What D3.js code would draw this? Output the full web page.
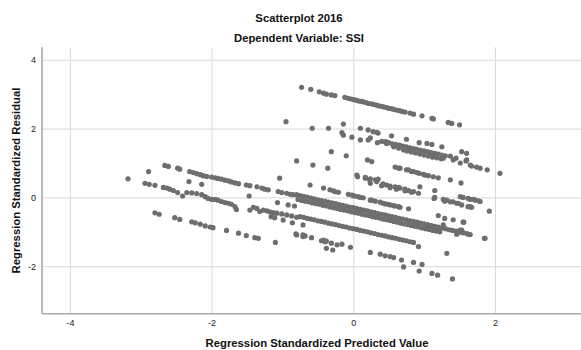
<!DOCTYPE html>
<html>
<head>
<meta charset="utf-8">
<script src="https://cdn.jsdelivr.net/npm/d3@7/dist/d3.min.js"></script>
<style>
  html, body { margin: 0; padding: 0; background: #fff; }
  svg { display: block; font-family: "Liberation Sans", Arial, sans-serif; }
</style>
</head>
<body>
<svg id="chart" width="581" height="350"></svg>
<script>
// Regression standardized residual vs. standardized predicted value, 2016 model (DV: SSI)
const chartTitle = "Scatterplot 2016";
const chartSubtitle = "Dependent Variable: SSI";
const xLabel = "Regression Standardized Predicted Value";
const yLabel = "Regression Standardized Residual";

const xDomain = [-4.394, 3.214];
const yDomain = [-3.381, 4.363];
const xTicks = [-4, -2, 0, 2];
const yTicks = [-2, 0, 2, 4];

// [predicted, residual] pairs, grouped by the diagonal bands they form
const topBand = [
  [-0.73,3.20],[-0.60,3.14],[-0.48,3.07],[-0.42,3.03],[-0.38,3.00],[-0.31,2.98],[-0.26,2.96],
  [-0.12,2.91],[-0.07,2.88],[-0.03,2.86],[0.01,2.84],[0.05,2.82],[0.08,2.80],[0.12,2.79],
  [0.15,2.77],[0.19,2.75],[0.22,2.73],[0.26,2.72],[0.29,2.70],[0.33,2.68],[0.36,2.66],
  [0.40,2.65],[0.43,2.63],[0.47,2.61],[0.50,2.59],[0.54,2.58],[0.57,2.56],[0.61,2.54],
  [0.65,2.52],[0.69,2.50],[0.73,2.48],[0.80,2.45],[0.85,2.42],[0.97,2.37],[1.11,2.30],
  [1.13,2.28],[1.34,2.18],[1.39,2.15],[1.50,2.11]
];

const upperBands = [
  [-0.95,2.20],[-0.58,2.01],[-0.35,2.01],[-0.14,2.13],[0.10,2.01],[0.21,1.96],[0.28,1.91],
  [0.33,1.89],[0.35,1.87],[0.54,1.79],[0.75,1.69],[0.93,1.59],[1.04,1.57],[1.11,1.54],
  [1.25,1.47],[1.53,1.33],[1.60,1.28],
  [-0.16,1.88],[0.24,1.73],[0.46,1.62],[0.47,1.57],
  [0.40,1.63],[0.45,1.61],[0.50,1.59],[0.55,1.56],[0.60,1.54],[0.65,1.52],[0.70,1.49],
  [0.75,1.47],[0.80,1.44],[0.85,1.42],[0.90,1.40],[0.95,1.37],[1.00,1.35],[1.05,1.33],
  [1.10,1.30],[1.15,1.28],[1.20,1.26],[1.25,1.23],[1.30,1.21],[1.37,1.20],[1.45,1.14],
  [1.60,1.09],[1.59,1.06],
  [-0.14,1.81],[-0.02,1.75],[0.10,1.67],[0.21,1.67],[0.34,1.59],[0.57,1.47],[0.64,1.43],
  [0.71,1.38],[0.76,1.35],[0.82,1.32],[0.88,1.29],[0.94,1.26],[1.00,1.23],[1.06,1.20],
  [1.12,1.17],[1.18,1.15],[1.24,1.12],[1.27,1.14],[1.41,1.09],[1.51,1.00],[1.65,0.94],
  [1.67,0.91],[1.74,0.88],[1.79,0.85],[1.89,0.80],[2.07,0.70]
];

const middleBands = [
  [-0.31,1.33],[-0.10,1.21],[0.20,1.09],[0.26,1.04],[0.59,0.88],[0.64,0.85],[0.66,0.85],
  [0.75,0.80],[0.78,0.80],[0.82,0.75],[0.85,0.75],[0.90,0.72],[0.93,0.70],[0.99,0.67],
  [1.01,0.65],[1.06,0.63],[1.13,0.60],[1.20,0.57],[1.37,0.51],[1.52,0.42],
  [-0.80,1.06],[-0.57,0.94],[-0.36,0.85],[0.05,0.65],[0.06,0.60],[0.17,0.56],[0.24,0.54],
  [0.31,0.51],[0.35,0.53],[0.17,0.58],
  [0.94,0.31],[1.15,0.20],[1.51,0.02],[1.55,0.00],[1.62,-0.03],[1.65,-0.06],[1.70,-0.06],
  [1.72,-0.08],[1.77,-0.10],[1.79,-0.12],
  [0.23,0.51],[0.24,0.41],[0.33,0.46],[0.40,0.34],[0.42,0.39],[0.47,0.36],[0.52,0.33],
  [0.52,0.28],[0.59,0.31],[0.61,0.24],[0.64,0.29],[0.66,0.27],[0.73,0.24],[0.73,0.19],
  [0.78,0.20],[0.82,0.15],[0.85,0.17],[0.92,0.12],[1.14,-0.03],[1.15,0.00],[1.27,-0.06],
  [1.29,-0.11],[1.32,-0.08],[1.37,-0.13],[1.41,-0.13],[1.46,-0.17],[1.48,-0.17],
  [1.53,-0.22],[1.62,-0.27],[1.65,-0.27],[1.67,-0.29],[1.92,-0.40],
  [-1.04,0.56],[-0.61,0.36],[-0.42,0.27],[-0.33,0.22],[-0.28,0.19],[-0.26,0.17],
  [-0.21,0.15],[-0.07,0.09],[-0.02,0.07],[0.00,0.05],[0.02,0.04],[0.07,0.02],[0.10,0.00],
  [0.14,-0.01],[0.24,-0.08],[0.26,-0.08],[0.31,-0.11],[0.38,-0.14],[0.42,-0.17],
  [0.45,-0.19],[0.49,-0.20],[0.52,-0.22],[0.57,-0.24],[0.59,-0.25],[0.64,-0.27],
  [0.66,-0.29],[0.78,-0.33],[1.20,-0.53],[1.29,-0.61],[1.41,-0.65],[1.55,-0.72],[1.56,-0.72]
];

const mainBand = [
  [-3.18,0.54],[-2.89,0.75],[-2.66,0.93],[-2.61,0.90],[-2.48,0.85],[-2.45,0.82],[-2.31,0.75],
  [-2.26,0.72],[-2.21,0.69],[-2.16,0.66],[-2.12,0.63],[-2.07,0.61],[-2.00,0.59],[-1.95,0.57],
  [-1.91,0.55],[-1.86,0.53],[-1.81,0.50],[-1.76,0.48],[-1.72,0.45],[-1.67,0.42],[-1.62,0.40],
  [-1.51,0.36],[-1.46,0.34],[-1.36,0.31],[-1.29,0.27],[-1.25,0.24],[-1.20,0.22],[-1.06,0.17],
  [-1.01,0.14],[-0.94,0.12],[-0.89,0.09],[-0.85,0.08],
  [-2.32,0.46],[-2.14,0.38],[-1.47,0.04],[-1.07,-0.15],[-0.92,-0.22],[-0.83,-0.25],
  [-0.80,0.08],[-0.75,0.05],[-0.70,0.03],[-0.65,0.01],[-0.60,-0.02],[-0.55,-0.04],
  [-0.50,-0.07],[-0.45,-0.09],[-0.40,-0.11],[-0.35,-0.14],[-0.30,-0.16],[-0.25,-0.18],
  [-0.20,-0.21],[-0.15,-0.23],[-0.10,-0.25],[-0.05,-0.28],[0.00,-0.30],[0.05,-0.32],
  [0.10,-0.35],[0.15,-0.37],[0.20,-0.39],[0.25,-0.42],[0.30,-0.44],[0.35,-0.47],
  [0.40,-0.49],[0.45,-0.51],[0.50,-0.54],[0.55,-0.56],[0.60,-0.58],[0.65,-0.61],
  [0.70,-0.63],[0.75,-0.65],[0.80,-0.68],[0.85,-0.70],[0.90,-0.72],[0.95,-0.75],
  [1.00,-0.77],[1.05,-0.79],[1.10,-0.82],[1.15,-0.84],[1.20,-0.86],[1.25,-0.89],
  [1.30,-0.91],[1.35,-0.94],[1.40,-0.96],[1.45,-0.98],[1.50,-1.01],[1.55,-1.03],
  [1.60,-1.05],[1.65,-1.08],
  [-0.78,-0.06],[-0.73,-0.09],[-0.68,-0.11],[-0.63,-0.13],[-0.58,-0.16],[-0.53,-0.18],
  [-0.48,-0.20],[-0.43,-0.23],[-0.38,-0.25],[-0.33,-0.28],[-0.28,-0.30],[-0.23,-0.32],
  [-0.18,-0.35],[-0.13,-0.37],[-0.08,-0.39],[-0.03,-0.42],[0.02,-0.44],[0.07,-0.46],
  [0.12,-0.49],[0.17,-0.51],[0.22,-0.53],[0.27,-0.56],[0.32,-0.58],[0.37,-0.60],
  [0.42,-0.63],[0.47,-0.65],[0.52,-0.67],[0.57,-0.70],[0.62,-0.72],[0.67,-0.75],
  [0.72,-0.77],[0.77,-0.79],[0.82,-0.82],[0.87,-0.84],[0.92,-0.86],[0.97,-0.89],
  [1.02,-0.91],[1.07,-0.93],[1.12,-0.96],[1.17,-0.98],[1.22,-1.00],
  [1.27,-0.80],[1.15,-0.90],[1.51,-0.95],[1.46,-1.07],[1.53,-0.95],[1.62,-1.07],
  [1.86,-1.19],[1.85,-1.19],[1.55,-1.02],[0.90,-0.78],[1.04,-0.88],[1.18,-0.95]
];

const lowerBand = [
  [-2.94,0.41],[-2.88,0.38],[-2.80,0.35],[-2.68,0.29],[-2.63,0.27],[-2.59,0.24],[-2.54,0.20],
  [-2.48,0.14],[-2.41,0.04],[-2.35,0.14],[-2.28,0.13],[-2.21,0.11],[-2.14,0.08],[-2.09,0.02],
  [-2.05,-0.03],[-2.00,-0.06],[-1.95,-0.06],[-1.91,-0.08],[-1.86,-0.12],[-1.81,-0.15],
  [-1.76,-0.17],[-1.72,-0.20],[-1.67,-0.27],[-1.65,-0.35],[-1.46,-0.37],[-1.41,-0.29],
  [-1.36,-0.32],[-1.32,-0.41],[-1.27,-0.37],[-1.22,-0.39],[-1.18,-0.42],[-1.13,-0.44],
  [-1.08,-0.46],[-1.01,-0.48],[-0.94,-0.51],[-0.87,-0.54],[-0.80,-0.58],
  [-0.75,-0.56],[-0.70,-0.58],[-0.65,-0.61],[-0.60,-0.63],[-0.55,-0.65],[-0.50,-0.68],
  [-0.45,-0.70],[-0.40,-0.72],[-0.35,-0.75],[-0.30,-0.77],[-0.25,-0.79],[-0.20,-0.82],
  [-0.15,-0.84],[-0.10,-0.86],[-0.05,-0.89],[0.00,-0.91],[0.05,-0.93],[0.10,-0.96],
  [0.15,-0.98],[0.20,-1.00],[0.25,-1.03],[0.30,-1.05],[0.35,-1.08],[0.40,-1.10],
  [0.45,-1.12],[0.50,-1.15],[0.55,-1.17],[0.60,-1.19],[0.65,-1.22],[0.70,-1.24],
  [0.75,-1.26],[0.80,-1.29],[0.85,-1.31],[0.92,-1.43],[1.32,-1.63],
  [-1.16,-0.56],[-1.11,-0.59],[-0.99,-0.66],[-0.86,-0.74],[-0.71,-0.80]
];

const bottomBands = [
  [-0.81,-1.06],[-0.80,-1.09],[-0.71,-1.09],[-0.71,-1.14],[-0.68,-1.12],[-0.59,-1.17],
  [-0.45,-1.26],[-0.42,-1.24],[-0.40,-1.29],[-0.38,-1.27],[-0.31,-1.33],[-0.23,-1.38],
  [-0.16,-1.36],[-0.04,-1.45],
  [0.24,-1.60],[0.38,-1.65],[0.45,-1.70],[0.52,-1.72],[0.57,-1.75],[0.68,-1.82],
  [0.85,-1.89],[0.97,-1.95],
  [-2.80,-0.45],[-2.74,-0.49],[-2.52,-0.59],[-2.45,-0.64],[-2.28,-0.71],[-2.23,-0.74],
  [-2.16,-0.78],[-2.09,-0.83],[-2.02,-0.86],[-1.98,-0.88],[-1.79,-0.96],[-1.62,-1.04],
  [-1.51,-1.11],[-1.39,-1.17],[-1.34,-1.19],[-1.10,-1.31],
  [-0.38,-1.48],[-0.29,-1.53],[0.71,-2.02],[0.93,-2.14],[1.11,-2.21],[1.19,-2.26],
  [1.40,-2.37]
];

const svg = d3.select("#chart");
const W = 581, H = 350;
const plot = { left: 42, right: 581, top: 47.3, bottom: 313.7 };
const titleFont = "11.3px";

const x = d3.scaleLinear().domain(xDomain).range([plot.left, plot.right]);
const y = d3.scaleLinear().domain(yDomain).range([plot.bottom, plot.top]);

svg.append("rect").attr("width", W).attr("height", H).attr("fill", "#fff");

// gridlines + tick labels
const gx = svg.append("g")
  .attr("transform", `translate(0,${plot.bottom})`)
  .call(d3.axisBottom(x).tickValues(xTicks).tickFormat(d => String(d))
    .tickSize(-(plot.bottom - plot.top)).tickPadding(6));
const gy = svg.append("g")
  .attr("transform", `translate(${plot.left},0)`)
  .call(d3.axisLeft(y).tickValues(yTicks).tickFormat(d => String(d))
    .tickSize(-(plot.right - plot.left)).tickPadding(6));

[gx, gy].forEach(g => {
  g.select(".domain").remove();
  g.selectAll(".tick line").attr("stroke", "#d9d9d9").attr("stroke-width", 1);
  g.selectAll(".tick text").attr("fill", "#222").style("font-size", "9px")
    .style("font-family", "'Liberation Sans', Arial, sans-serif");
});

// axis frame
svg.append("line").attr("x1", plot.left).attr("x2", plot.left)
  .attr("y1", plot.top).attr("y2", plot.bottom)
  .attr("stroke", "#a8a8a8").attr("stroke-width", 1.6);
svg.append("line").attr("x1", plot.left).attr("x2", plot.right)
  .attr("y1", plot.bottom).attr("y2", plot.bottom)
  .attr("stroke", "#a8a8a8").attr("stroke-width", 1.6);

// points
const points = [].concat(topBand, upperBands, middleBands, mainBand, lowerBand, bottomBands);
svg.append("g").selectAll("circle").data(points).join("circle")
  .attr("cx", d => x(d[0]))
  .attr("cy", d => y(d[1]))
  .attr("r", 2.6)
  .attr("fill", "#6e6e6e");

// titles
svg.append("text").attr("x", 299).attr("y", 22).attr("text-anchor", "middle")
  .style("font-size", titleFont).style("font-weight", "bold").attr("fill", "#111")
  .text(chartTitle);
svg.append("text").attr("x", 299).attr("y", 42).attr("text-anchor", "middle")
  .style("font-size", titleFont).style("font-weight", "bold").attr("fill", "#111")
  .text(chartSubtitle);
svg.append("text").attr("x", 317).attr("y", 347)
  .attr("text-anchor", "middle")
  .style("font-size", titleFont).style("font-weight", "bold").attr("fill", "#111")
  .text(xLabel);
svg.append("text")
  .attr("transform", `translate(20,${(plot.top + plot.bottom) / 2}) rotate(-90)`)
  .attr("text-anchor", "middle")
  .style("font-size", titleFont).style("font-weight", "bold").attr("fill", "#111")
  .text(yLabel);
</script>
</body>
</html>
